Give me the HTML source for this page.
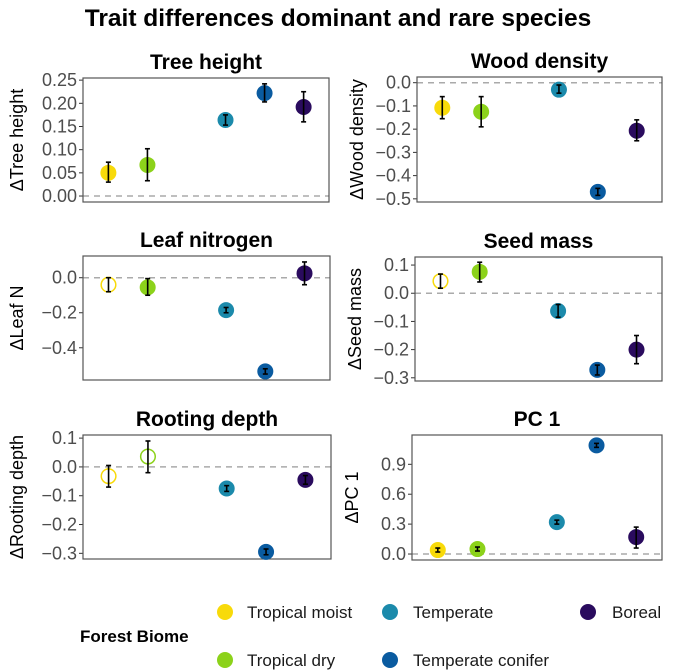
<!DOCTYPE html>
<html><head><meta charset="utf-8"><style>
body{margin:0;background:#fff;}
svg{display:block;font-family:"Liberation Sans",sans-serif;}
</style></head><body>
<svg id="chart" width="675" height="672">
<text x="338" y="26" text-anchor="middle" font-size="24.5" font-weight="bold">Trait differences dominant and rare species</text>
<g>
<text x="80" y="642" font-size="17" font-weight="bold">Forest Biome</text>
<g><circle cx="225" cy="612" r="8" fill="#F8DA0A"/><text x="247" y="618" font-size="17" fill="#1a1a1a">Tropical moist</text></g>
<g><circle cx="225" cy="660" r="8" fill="#8CD21A"/><text x="247" y="666" font-size="17" fill="#1a1a1a">Tropical dry</text></g>
<g><circle cx="390" cy="612" r="8" fill="#1B8AAB"/><text x="413" y="618" font-size="17" fill="#1a1a1a">Temperate</text></g>
<g><circle cx="390" cy="660" r="8" fill="#0A5BA0"/><text x="413" y="666" font-size="17" fill="#1a1a1a">Temperate conifer</text></g>
<g><circle cx="588" cy="612" r="8" fill="#2A0B5E"/><text x="612" y="618" font-size="17" fill="#1a1a1a">Boreal</text></g>
</g>
</svg>
<script>
const biomes=["Tropical moist","Tropical dry","Temperate","Temperate conifer","Boreal"];
const xpos=[1,2,4,5,6];
const colors=["#F8DA0A","#8CD21A","#1B8AAB","#0A5BA0","#2A0B5E"];
const treeVals=[0.05,0.067,0.164,0.222,0.192];
const treeLo=[0.03,0.033,0.153,0.203,0.16];
const treeHi=[0.073,0.102,0.175,0.242,0.225];
const treeHollow=[0,0,0,0,0];
const treeTicks=["0.00","0.05","0.10","0.15","0.20","0.25"];
const woodVals=[-0.108,-0.125,-0.03,-0.47,-0.207];
const woodLo=[-0.155,-0.19,-0.045,-0.485,-0.25];
const woodHi=[-0.06,-0.06,-0.01,-0.455,-0.16];
const woodHollow=[0,0,0,0,0];
const woodTicks=["-0.5","-0.4","-0.3","-0.2","-0.1","0.0"];
const leafVals=[-0.04,-0.055,-0.185,-0.535,0.025];
const leafLo=[-0.08,-0.1,-0.2,-0.55,-0.04];
const leafHi=[0,-0.005,-0.17,-0.52,0.09];
const leafHollow=[1,0,0,0,0];
const leafTicks=["-0.4","-0.2","0.0"];
const seedVals=[0.043,0.076,-0.063,-0.272,-0.2];
const seedLo=[0.018,0.04,-0.085,-0.29,-0.25];
const seedHi=[0.068,0.11,-0.04,-0.255,-0.15];
const seedHollow=[1,0,0,0,0];
const seedTicks=["-0.3","-0.2","-0.1","0.0","0.1"];
const rootVals=[-0.032,0.036,-0.075,-0.295,-0.045];
const rootLo=[-0.07,-0.02,-0.085,-0.305,-0.06];
const rootHi=[0.005,0.09,-0.065,-0.285,-0.03];
const rootHollow=[1,1,0,0,0];
const rootTicks=["-0.3","-0.2","-0.1","0.0","0.1"];
const pcVals=[0.04,0.05,0.32,1.09,0.17];
const pcLo=[0.02,0.03,0.3,1.07,0.06];
const pcHi=[0.06,0.07,0.34,1.11,0.27];
const pcHollow=[0,0,0,0,0];
const pcTicks=["0.0","0.3","0.6","0.9"];

const panels=[
 {name:"tree-height",title:"Tree height",ylab:"\u0394Tree height",L:83,R:329,T:78,B:202,ymin:-0.0129,ymax:0.2546,v:treeVals,lo:treeLo,hi:treeHi,h:treeHollow,ticks:treeTicks},
 {name:"wood-density",title:"Wood density",ylab:"\u0394Wood density",L:417,R:662,T:77,B:202,ymin:-0.5136,ymax:0.0245,v:woodVals,lo:woodLo,hi:woodHi,h:woodHollow,ticks:woodTicks},
 {name:"leaf-nitrogen",title:"Leaf nitrogen",ylab:"\u0394Leaf N",L:83,R:330,T:256,B:380,ymin:-0.584,ymax:0.124,v:leafVals,lo:leafLo,hi:leafHi,h:leafHollow,ticks:leafTicks},
 {name:"seed-mass",title:"Seed mass",ylab:"\u0394Seed mass",L:415,R:662,T:257,B:381,ymin:-0.3114,ymax:0.1286,v:seedVals,lo:seedLo,hi:seedHi,h:seedHollow,ticks:seedTicks},
 {name:"rooting-depth",title:"Rooting depth",ylab:"\u0394Rooting depth",L:83,R:331,T:435,B:559,ymin:-0.3197,ymax:0.1108,v:rootVals,lo:rootLo,hi:rootHi,h:rootHollow,ticks:rootTicks},
 {name:"pc1",title:"PC 1",ylab:"\u0394PC 1",L:412,R:662,T:435,B:560,ymin:-0.06,ymax:1.194,v:pcVals,lo:pcLo,hi:pcHi,h:pcHollow,ticks:pcTicks}
];
const NS="http://www.w3.org/2000/svg";
const svg=document.getElementById("chart");
function mk(tag,attrs,parent){const e=document.createElementNS(NS,tag);for(const k in attrs)e.setAttribute(k,attrs[k]);(parent||svg).appendChild(e);return e;}
panels.forEach(p=>{
 const g=mk("g",{});
 
 
 const xs=x=>p.L+(x-0.35)/6.3*(p.R-p.L);
 const ys=y=>p.B-(y-p.ymin)/(p.ymax-p.ymin)*(p.B-p.T);
 const t=mk("text",{x:(p.L+p.R)/2,y:p.T-9,"text-anchor":"middle","font-size":"21","font-weight":"bold"},g);
 t.textContent=p.title;
 
 
 const cy=(p.T+p.B)/2;
 const yl=mk("text",{x:0,y:0,"text-anchor":"middle","font-size":"18"},g);
 if(p.L>400) yl.setAttribute("transform",`translate(${p.L-54},${cy}) rotate(-90)`);
 else yl.setAttribute("transform",`translate(${p.L-60},${cy}) rotate(-90)`);
 yl.textContent=p.ylab;
 
 
 mk("line",{x1:p.L,x2:p.R,y1:ys(0),y2:ys(0),stroke:"#aaa","stroke-width":"1.5","stroke-dasharray":"6,5"},g);
 p.ticks.forEach(tk=>{
  const v=parseFloat(tk), y=ys(v);
  mk("line",{x1:p.L-4,x2:p.L,y1:y,y2:y,stroke:"#333","stroke-width":"1"},g);
  const tt=mk("text",{x:p.L-6,y:y+6,"text-anchor":"end","font-size":"18",fill:"#4d4d4d"},g);
  tt.textContent=tk.replace("-","\u2212");
  
  
 });
 const box=mk("rect",{x:p.L,y:p.T,width:p.R-p.L,height:p.B-p.T,fill:"none",stroke:"#555","stroke-width":"1.2"},g);
 
 
 p.v.forEach((v,i)=>{
  const x=xs(xpos[i]);
  const c=mk("circle",{cx:x,cy:ys(v),r:p.h[i]?7.3:8,fill:p.h[i]?"#fff":colors[i],stroke:colors[i],"stroke-width":p.h[i]?"1.5":"0"},g);
  
  
  const e=mk("g",{stroke:"#000","stroke-width":"1.6"},g);
  
  
  mk("line",{x1:x,x2:x,y1:ys(p.lo[i]),y2:ys(p.hi[i])},e);
  mk("line",{x1:x-2.5,x2:x+2.5,y1:ys(p.lo[i]),y2:ys(p.lo[i])},e);
  mk("line",{x1:x-2.5,x2:x+2.5,y1:ys(p.hi[i]),y2:ys(p.hi[i])},e);
 });
});
</script>
</body></html>
